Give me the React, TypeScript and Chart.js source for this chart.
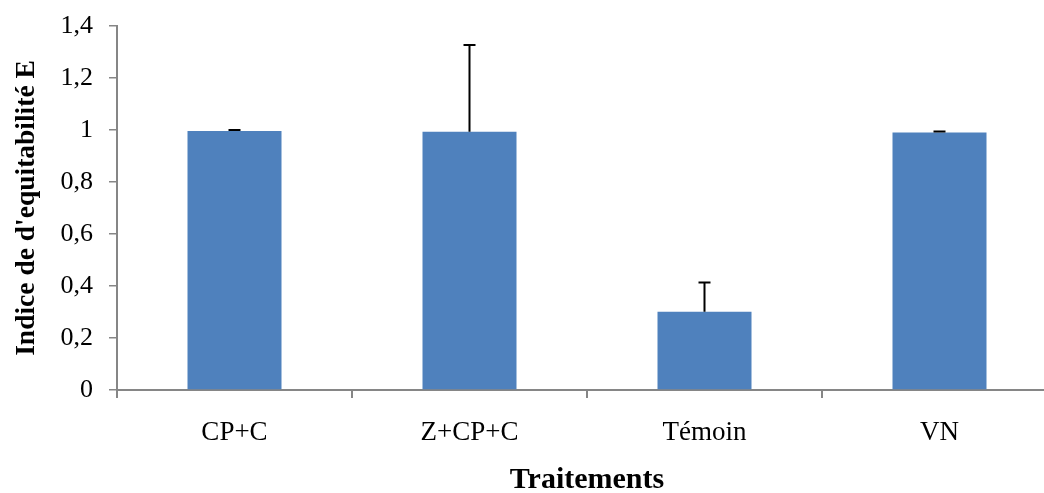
import React, { useEffect, useRef } from "react";
import { Chart, registerables } from "chart.js";

Chart.register(...registerables);

const categories = ["CP+C", "Z+CP+C", "Témoin", "VN"];
const values = [0.996, 0.993, 0.301, 0.99];
const errors = [0.004, 0.334, 0.112, 0.004];
const yTickLabels = ["0", "0,2", "0,4", "0,6", "0,8", "1", "1,2", "1,4"];
const xTitle = "Traitements";
const yTitle = "Indice de d'equitabilité E";

const FONT = "'Liberation Serif', 'Times New Roman', serif";
const AXIS = "#868686";

const errorBarPlugin = {
  id: "errorBars",
  afterDatasetsDraw(chart: any) {
    const ctx = chart.ctx;
    const meta = chart.getDatasetMeta(0);
    const yScale = chart.scales.y;
    ctx.save();
    ctx.strokeStyle = "#000000";
    ctx.lineWidth = 2;
    meta.data.forEach((bar: any, i: number) => {
      const x = bar.x;
      const yBase = yScale.getPixelForValue(values[i]);
      const yTop = yScale.getPixelForValue(values[i] + errors[i]);
      ctx.beginPath();
      ctx.moveTo(x, yBase);
      ctx.lineTo(x, yTop);
      ctx.moveTo(x - 6, yTop);
      ctx.lineTo(x + 6, yTop);
      ctx.stroke();
    });
    ctx.restore();
  },
};

export default function App() {
  const ref = useRef<HTMLCanvasElement | null>(null);
  useEffect(() => {
    if (!ref.current) return;
    const chart = new Chart(ref.current, {
      type: "bar",
      data: {
        labels: categories,
        datasets: [
          {
            data: values,
            backgroundColor: "#4F81BD",
            borderWidth: 0,
            barPercentage: 0.4,
            categoryPercentage: 1,
          },
        ],
      },
      options: {
        responsive: false,
        animation: false,
        devicePixelRatio: 1,
        layout: { padding: { top: 26, left: 0, right: 3, bottom: 0 } },
        plugins: { legend: { display: false }, tooltip: { enabled: false } },
        scales: {
          x: {
            offset: true,
            grid: {
              offset: true,
              drawOnChartArea: false,
              drawTicks: true,
              tickLength: 8,
              color: AXIS,
              lineWidth: 2,
            },
            border: { display: true, color: AXIS, width: 2 },
            ticks: {
              color: "#000000",
              padding: 19,
              font: { family: FONT, size: 27 },
              maxRotation: 0,
            },
            title: {
              display: true,
              text: xTitle,
              color: "#000000",
              font: { family: FONT, size: 30, weight: "bold", lineHeight: 0.85 },
              padding: { top: 0, bottom: 0 },
            },
            afterFit(scale: any) {
              scale.height = 103;
            },
          },
          y: {
            min: 0,
            max: 1.4,
            afterFit(scale: any) {
              scale.width = 117;
              scale.paddingTop = 0;
              scale.paddingBottom = 0;
            },
            ticks: {
              stepSize: 0.2,
              color: "#000000",
              padding: 16,
              font: { family: FONT, size: 26 },
              callback: (_v: any, i: number) => yTickLabels[i],
            },
            grid: {
              drawOnChartArea: false,
              drawTicks: true,
              tickLength: 8,
              color: AXIS,
              lineWidth: 1.5,
            },
            border: { display: true, color: AXIS, width: 2 },
            title: {
              display: true,
              text: yTitle,
              color: "#000000",
              font: { family: FONT, size: 27.5, weight: "bold", lineHeight: 1.2 },
              padding: { top: 10, bottom: 0 },
            },
          },
        },
      },
      plugins: [errorBarPlugin],
    });
    return () => chart.destroy();
  }, []);

  return (
    <div
      style={{
        position: "absolute",
        left: 0,
        top: 0,
        width: 1044,
        height: 493,
        overflow: "hidden",
        background: "#ffffff",
      }}
    >
      <canvas ref={ref} width={1060} height={493} style={{ display: "block" }} />
    </div>
  );
}
